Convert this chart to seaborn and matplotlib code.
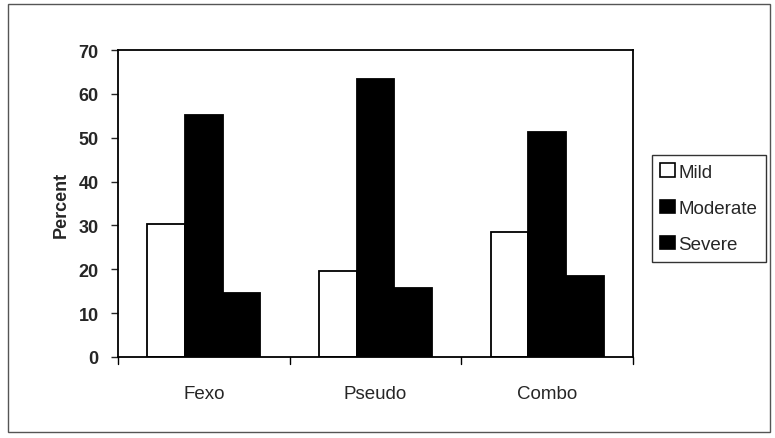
import matplotlib
matplotlib.use("Agg")
import matplotlib.pyplot as plt
import seaborn as sns
import pandas as pd
from matplotlib.patches import Rectangle, Patch

categories = ["Fexo", "Pseudo", "Combo"]
severity = ["Mild", "Moderate", "Severe"]
mild = [30.3, 19.7, 28.5]
moderate = [55.2, 63.4, 51.4]
severe = [14.6, 15.7, 18.4]
yticks = [0, 10, 20, 30, 40, 50, 60, 70]

rows = []
for i, c in enumerate(categories):
    rows.append((c, "Mild", mild[i]))
    rows.append((c, "Moderate", moderate[i]))
    rows.append((c, "Severe", severe[i]))
df = pd.DataFrame(rows, columns=["Treatment", "Severity", "Percent"])

sns.set_style("white")
plt.rcParams['font.family'] = ['Liberation Sans', 'DejaVu Sans']

fig = plt.figure(figsize=(7.75, 4.39), dpi=100)
ax = fig.add_axes([118/775, 1-358/439, (633-118)/775, (358-51)/439])

palette = {"Mild": "white", "Moderate": "black", "Severe": "black"}
sns.barplot(data=df, x="Treatment", y="Percent", hue="Severity",
            hue_order=severity, order=categories, palette=palette,
            width=0.66, gap=0, edgecolor="black", linewidth=1.3,
            errorbar=None, legend=False, ax=ax, saturation=1)

ax.set_ylim(0, 70)
ax.set_xlim(-0.5, 2.5)
ax.set_yticks(yticks)
ax.set_yticklabels([str(t) for t in yticks], fontsize=13, fontweight='bold')
ax.set_xticks([0, 1, 2])
ax.set_xticklabels(categories, fontsize=13.5)
ax.tick_params(axis='x', length=0, pad=20)
ax.tick_params(axis='y', left=True, length=5, width=1, direction='out', pad=9)
for xb in [-0.5, 0.5, 1.5, 2.5]:
    ax.plot([xb, xb], [0, -1.5], color='black', lw=1, clip_on=False)
ax.set_xlabel("")
ax.set_ylabel("Percent", fontsize=13, fontweight='bold', labelpad=6)
for s in ax.spines.values():
    s.set_visible(True)
    s.set_color('black')
    s.set_linewidth(1.3)

handles = [Patch(facecolor=palette[s], edgecolor='black', linewidth=1.2, label=s) for s in severity]
leg = fig.legend(handles=handles, loc='upper left',
                 bbox_to_anchor=(652/775, 1-156/439), fontsize=13.5,
                 frameon=True, fancybox=False, edgecolor='black',
                 handlelength=0.75, handleheight=0.75, handletextpad=0.2,
                 borderpad=0.45, labelspacing=1.0, borderaxespad=0)
leg.get_frame().set_linewidth(1.0)

fig.patches.append(Rectangle((8/775, 1-433/439), (770-8)/775, (433-5)/439,
                             transform=fig.transFigure, fill=False,
                             edgecolor='#555555', linewidth=1.0))

fig.savefig("out.png", dpi=100)
